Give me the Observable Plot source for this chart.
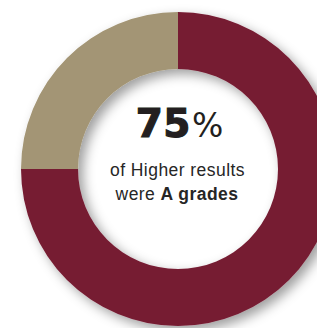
<!DOCTYPE html>
<html><head><meta charset="utf-8">
<script src="https://cdn.jsdelivr.net/npm/d3@7"></script>
<script src="https://cdn.jsdelivr.net/npm/@observablehq/plot@0.6"></script>
<style>html,body{margin:0;padding:0;background:#fff;} svg{display:block}</style>
</head><body><div id="chart"></div>
<script>
const categories = ["A grades", "Other grades"];
const shares = [75, 25];
const colours = ["#761c33", "#a39574"];
const headlineValue = "75";
const headlineUnit = "%";
const captionLine1 = "of Higher results";
const captionLine2Lead = "were";
const captionLine2Bold = "A grades";

const slices = categories.map((c, i) => ({category: c, share: shares[i], colour: colours[i]}));

function donut(index, scales) {
  const {x, y} = scales;
  const cx = x(0), cy = y(0);
  const R = Math.abs(x(1) - x(0));
  const r = R * 0.637;
  const g = d3.create("svg:g");
  const f = g.append("defs").append("filter").attr("id", "ringShadow")
    .attr("x", "-30%").attr("y", "-30%").attr("width", "160%").attr("height", "160%");
  f.append("feDropShadow").attr("dx", 5).attr("dy", 5).attr("stdDeviation", 6)
    .attr("flood-color", "#000").attr("flood-opacity", 0.38);
  const arcs = d3.pie().sort(null).startAngle(0).endAngle(2 * Math.PI).value(d => d.share)(slices);
  const arc = d3.arc().innerRadius(r).outerRadius(R);
  g.append("g").attr("filter", "url(#ringShadow)").attr("transform", `translate(${cx},${cy})`)
    .selectAll("path").data(arcs).join("path")
    .attr("d", arc).attr("fill", d => d.data.colour);
  return g.node();
}

const font = "'Liberation Sans', Arial, Helvetica, sans-serif";
const chart = Plot.plot({
  width: 317, height: 328, margin: 0,
  x: {domain: [-1, 1], range: [178 - 157, 178 + 157], axis: null},
  y: {domain: [-1, 1], range: [169 + 157, 169 - 157], axis: null},
  style: {background: "#fff", fontFamily: font},
  marks: [
    Plot.dot([0], {x: () => 0, y: () => 0, r: 0, fill: "none", stroke: "none"}),
    donut,
    Plot.text([headlineValue + headlineUnit], {x: () => 0, y: () => 0, text: d => d, dx: 1, dy: -33, lineAnchor: "bottom", fill: "#231f20", fontSize: 39}),
    Plot.text([captionLine1], {x: () => 0, y: () => 0, text: d => d, dx: -1, dy: 6, lineAnchor: "bottom", fill: "#262626", fontSize: 17.5}),
    Plot.text([captionLine2Lead + " " + captionLine2Bold], {x: () => 0, y: () => 0, text: d => d, dx: -1.5, dy: 30, lineAnchor: "bottom", fill: "#262626", fontSize: 17.5})
  ]
});

chart.querySelectorAll("text").forEach(t => {
  const s = t.textContent;
  if (s === headlineValue + headlineUnit) {
    t.textContent = "";
    const a = document.createElementNS("http://www.w3.org/2000/svg", "tspan");
    a.textContent = headlineValue;
    a.setAttribute("font-family", "'DejaVu Sans', sans-serif");
    a.setAttribute("font-weight", "bold");
    a.setAttribute("font-size", 39);
    a.setAttribute("stroke", "#231f20");
    a.setAttribute("stroke-width", 1.2);
    a.setAttribute("letter-spacing", "0.5");
    const b = document.createElementNS("http://www.w3.org/2000/svg", "tspan");
    b.textContent = headlineUnit;
    b.setAttribute("font-family", "'DejaVu Sans', sans-serif");
    b.setAttribute("font-size", 33);
    b.setAttribute("dx", 1);
    t.append(a, b);
  } else if (s === captionLine1) {
    t.setAttribute("letter-spacing", "0.45");
  } else if (s === captionLine2Lead + " " + captionLine2Bold) {
    t.textContent = "";
    t.setAttribute("letter-spacing", "0.45");
    const a = document.createElementNS("http://www.w3.org/2000/svg", "tspan");
    a.textContent = captionLine2Lead + " ";
    const b = document.createElementNS("http://www.w3.org/2000/svg", "tspan");
    b.textContent = captionLine2Bold;
    b.setAttribute("font-weight", "bold");
    t.append(a, b);
  }
});

document.getElementById("chart").append(chart);
</script>
</body></html>
